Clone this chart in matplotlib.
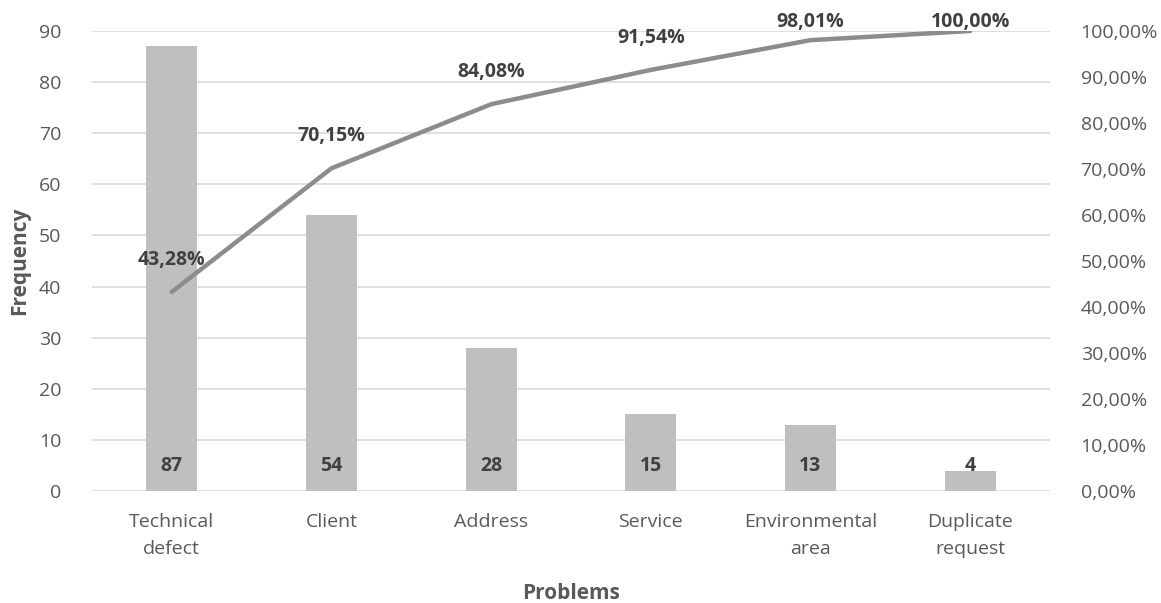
import matplotlib
matplotlib.use("Agg")
import matplotlib.pyplot as plt

categories = ["Technical\ndefect", "Client", "Address", "Service", "Environmental\narea", "Duplicate\nrequest"]
frequency = [87, 54, 28, 15, 13, 4]
cumulative_pct = [43.28, 70.15, 84.08, 91.54, 98.01, 100.00]
left_ticks = [0, 10, 20, 30, 40, 50, 60, 70, 80, 90]
right_ticks = [0, 10, 20, 30, 40, 50, 60, 70, 80, 90, 100]

plt.rcParams['font.family'] = ['Open Sans', 'DejaVu Sans']

fig = plt.figure(figsize=(11.61, 6.03), dpi=100)
ax = fig.add_axes([0.0792, 0.1857, 0.8252, 0.7629])
ax2 = ax.twinx()

x = list(range(len(categories)))
ax.bar(x, frequency, width=0.32, color="#bfbfbf", zorder=2)
ax.set_xlim(-0.5, len(categories) - 0.5)
ax.set_ylim(0, 90)
ax.set_yticks(left_ticks)
ax.yaxis.grid(True, color="#d9d9d9", linewidth=1.2, zorder=0)
ax.set_axisbelow(True)
for s in ax.spines.values():
    s.set_visible(False)
for s in ax2.spines.values():
    s.set_visible(False)
ax.tick_params(axis="both", length=0, colors="#595959", labelsize=14)
ax.tick_params(axis="y", pad=22)
ax.tick_params(axis="x", pad=16)
ax.set_xticks(x)
ax.set_xticklabels(categories, linespacing=1.6)
ax.set_ylabel("Frequency", fontsize=15, fontweight="bold", color="#595959", labelpad=6)
ax.set_xlabel("Problems", fontsize=15, fontweight="bold", color="#595959", labelpad=18)

for xi, v in zip(x, frequency):
    ax.annotate(str(v), (xi, 0), xytext=(0, 18), textcoords="offset points",
                ha="center", va="center", fontsize=14, fontweight="bold", color="#404040", zorder=5)

ax2.plot(x, cumulative_pct, color="#8c8c8c", linewidth=3.2, solid_capstyle="round",
         solid_joinstyle="round", zorder=4)
ax2.set_ylim(0, 100)
ax2.set_yticks(right_ticks)
ax2.set_yticklabels([f"{t:.2f}%".replace(".", ",") for t in right_ticks])
ax2.tick_params(axis="y", length=0, colors="#595959", labelsize=14, pad=22)

for xi, v in zip(x, cumulative_pct):
    ly = min(v + 7, 102)
    ax2.text(xi, ly, f"{v:.2f}%".replace(".", ","), ha="center", va="center",
             fontsize=14, fontweight="bold", color="#404040", zorder=6, clip_on=False)

fig.savefig("out.png", dpi=100)
